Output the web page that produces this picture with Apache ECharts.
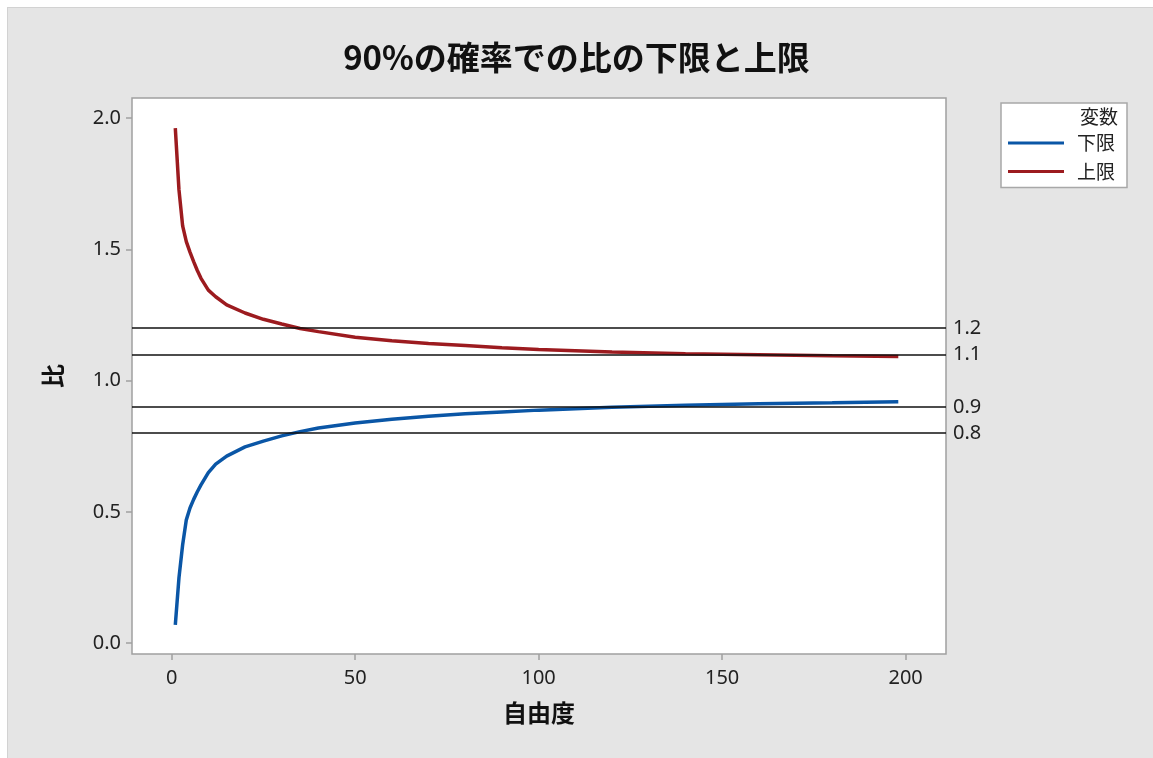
<!DOCTYPE html>
<html>
<head>
<meta charset="utf-8">
<script src="https://cdn.jsdelivr.net/npm/echarts@6/dist/echarts.min.js"></script>
<style>
  html, body { margin: 0; padding: 0; background: #ffffff; }
  #bg { position: absolute; left: 7px; top: 7px; width: 1146px; height: 751px; background: #e5e5e5; border-top: 1px solid #d2d2d2; border-left: 1px solid #d2d2d2; box-sizing: border-box; }
  #chart { position: absolute; left: 0; top: 0; width: 1153px; height: 758px; }
</style>
</head>
<body>
<div id="bg"></div>
<div id="chart"></div>
<script>
// ---- data ----
const titleText = '90%の確率での比の下限と上限';
const xName = '自由度';
const yName = '比';
const legendTitle = '変数';
const seriesNames = ['下限', '上限'];
const degreesOfFreedom = [1, 2, 3, 4, 5, 6, 7, 8, 10, 12, 15, 20, 25, 30, 35, 40, 50, 60, 70, 80, 90, 100, 120, 140, 160, 180, 198];
const lowerValues = [0.07, 0.25, 0.375, 0.47, 0.515, 0.548, 0.577, 0.603, 0.650, 0.682, 0.713, 0.748, 0.770, 0.790, 0.806, 0.820, 0.839, 0.853, 0.865, 0.874, 0.881, 0.888, 0.899, 0.907, 0.912, 0.916, 0.920];
const upperValues = [1.962, 1.727, 1.590, 1.530, 1.490, 1.454, 1.420, 1.390, 1.345, 1.320, 1.289, 1.258, 1.234, 1.216, 1.199, 1.187, 1.166, 1.152, 1.142, 1.134, 1.126, 1.119, 1.109, 1.103, 1.099, 1.095, 1.092];
const referenceLines = [1.2, 1.1, 0.9, 0.8];
const xTicks = [0, 50, 100, 150, 200];
const yTicks = [0, 0.5, 1.0, 1.5, 2.0];

// ---- chart ----
const colors = ['#0a56a6', '#9c1b1f'];
const font = '"Noto Sans", "Noto Sans CJK JP", sans-serif';
const cjkFont = '"Noto Sans CJK JP", "Noto Sans", sans-serif';

const chart = echarts.init(document.getElementById('chart'), null, { renderer: 'canvas' });

function pairs(xs, ys) { return xs.map((x, i) => [x, ys[i]]); }

const option = {
  backgroundColor: 'transparent',
  animation: false,
  title: {
    text: titleText,
    left: 'center',
    top: 36,
    padding: [5, 0, 5, 10],
    textStyle: { fontFamily: cjkFont, fontSize: 33, fontWeight: 'bold', color: '#111' }
  },
  grid: {
    left: 132, top: 98, right: 207, bottom: 104,
    show: true, backgroundColor: '#ffffff', borderColor: '#a0a0a0', borderWidth: 1.5
  },
  legend: {
    orient: 'vertical',
    left: 1001, top: 103,
    padding: [30, 12, 6, 7],
    backgroundColor: '#ffffff',
    borderColor: '#a8a8a8', borderWidth: 1.5,
    icon: 'rect', itemWidth: 56, itemHeight: 3, itemGap: 8.5,
    data: seriesNames,
    textStyle: { fontFamily: cjkFont, fontSize: 19, lineHeight: 20, color: '#222', padding: [0, 0, 0, 8] }
  },
  graphic: [{
    type: 'text', right: 1153 - 1118, top: 107, z: 100,
    style: { text: legendTitle, font: '19px ' + cjkFont, fill: '#222' }
  }],
  xAxis: {
    type: 'value', min: -10.8, max: 211,
    name: xName, nameLocation: 'middle', nameGap: 47,
    nameTextStyle: { fontFamily: cjkFont, fontSize: 24, fontWeight: 'bold', color: '#111' },
    axisLine: { show: false, onZero: false },
    axisTick: { show: true, length: 6, customValues: xTicks, lineStyle: { color: '#a0a0a0', width: 1.5 } },
    axisLabel: { customValues: xTicks, margin: 14, fontFamily: font, fontSize: 20, color: '#222' },
    splitLine: { show: false }
  },
  yAxis: {
    type: 'value', min: -0.041, max: 2.077,
    name: yName, nameLocation: 'middle', nameGap: 67, nameRotate: 90,
    nameTextStyle: { fontFamily: cjkFont, fontSize: 24, fontWeight: 'bold', color: '#111' },
    axisLine: { show: false, onZero: false },
    axisTick: { show: true, length: 6, customValues: yTicks, lineStyle: { color: '#a0a0a0', width: 1.5 } },
    axisLabel: { customValues: yTicks, margin: 11, fontFamily: font, fontSize: 20, color: '#222',
      formatter: v => v.toFixed(1) },
    splitLine: { show: false }
  },
  series: [
    {
      name: seriesNames[0], type: 'line', data: pairs(degreesOfFreedom, lowerValues),
      showSymbol: false, symbol: 'none', color: colors[0],
      lineStyle: { width: 3.5, color: colors[0] },
      markLine: {
        silent: true, symbol: 'none',
        lineStyle: { color: '#111', width: 1.5, type: 'solid' },
        label: { show: true, position: 'end', distance: 7, formatter: p => String(p.value),
          fontFamily: font, fontSize: 20, color: '#222' },
        data: referenceLines.map(v => ({ yAxis: v }))
      }
    },
    {
      name: seriesNames[1], type: 'line', data: pairs(degreesOfFreedom, upperValues),
      showSymbol: false, symbol: 'none', color: colors[1],
      lineStyle: { width: 3.5, color: colors[1] }
    }
  ]
};

chart.setOption(option);
</script>
</body>
</html>
